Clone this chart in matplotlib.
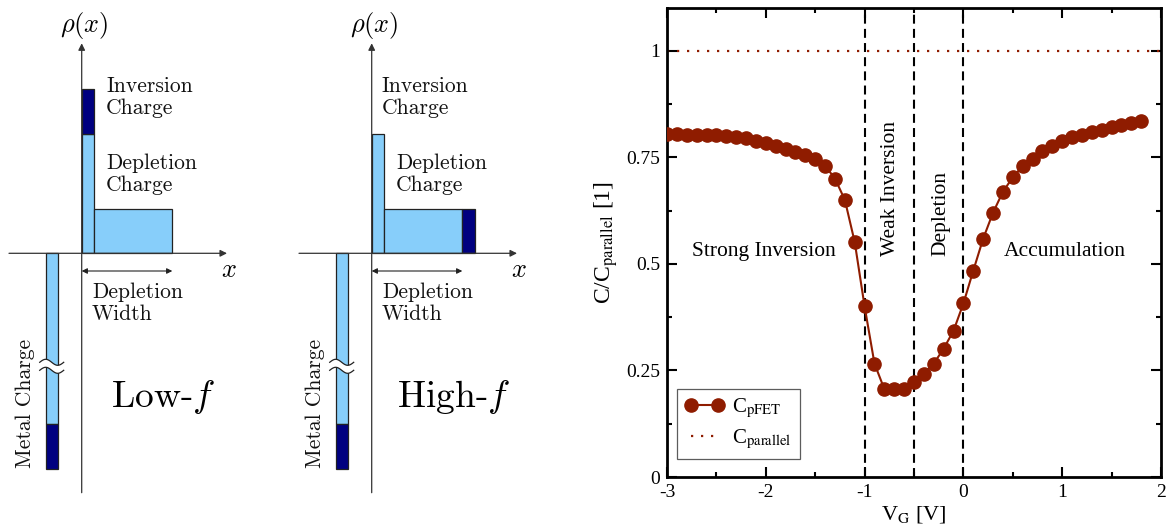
import matplotlib.pyplot as plt
from matplotlib.patches import Rectangle, Polygon
from matplotlib.ticker import MultipleLocator, FixedLocator, FixedFormatter
import numpy as np

plt.rcParams['axes.unicode_minus'] = False

# gate voltage sweep and normalised pFET capacitance
vg = [-3.0, -2.9, -2.8, -2.7, -2.6, -2.5, -2.4, -2.3, -2.2, -2.1,
      -2.0, -1.9, -1.8, -1.7, -1.6, -1.5, -1.4, -1.3, -1.2, -1.1,
      -1.0, -0.9, -0.8, -0.7, -0.6, -0.5, -0.4, -0.3, -0.2, -0.1,
      0.0, 0.1, 0.2, 0.3, 0.4, 0.5, 0.6, 0.7, 0.8, 0.9,
      1.0, 1.1, 1.2, 1.3, 1.4, 1.5, 1.6, 1.7, 1.8]
c_pfet = [0.805, 0.805, 0.803, 0.803, 0.802, 0.801, 0.800, 0.797, 0.794, 0.789,
          0.784, 0.777, 0.770, 0.762, 0.756, 0.747, 0.730, 0.700, 0.650, 0.551,
          0.400, 0.266, 0.206, 0.207, 0.207, 0.223, 0.242, 0.266, 0.301, 0.343,
          0.407, 0.484, 0.559, 0.620, 0.669, 0.703, 0.729, 0.747, 0.764, 0.776,
          0.787, 0.797, 0.803, 0.809, 0.815, 0.820, 0.826, 0.830, 0.834]
c_parallel = 1.0
region_bounds = [-1.0, -0.5, 0.0]

# charge sketch sizes (arbitrary units, origin where the axes cross)
panel_titles = ['Low-$f$', 'High-$f$']
inversion_top = [164, 119]     # top of the thin surface bar
depletion_extra = [0, 12.7]    # extra depletion charge at the edge
thin_height = 119
thin_width = 12
depletion_height = 44
depletion_width = 90.6
metal_depth = 216
metal_dark = 45

LIGHT = '#87cefa'
DARK = '#000080'
RED = '#8f1c00'

fig = plt.figure(figsize=(11.7, 5.28), dpi=100)

cm_txt = dict(family='cmr10', fontsize=15.5, color='#111111')


def draw_sketch(ax, inv_top, dep_extra, title, inv_x):
    ax.set_xlim(-81.7, 208.3)
    ax.set_ylim(-274.7, 253.3)
    ax.axis('off')
    ec = dict(edgecolor='#222222', linewidth=0.9)
    # surface (inversion) bar
    ax.add_patch(Rectangle((0, 0), thin_width, thin_height, facecolor=LIGHT, **ec))
    if inv_top > thin_height:
        ax.add_patch(Rectangle((0, thin_height), thin_width, inv_top - thin_height,
                               facecolor=DARK, **ec))
    # depletion charge
    ax.add_patch(Rectangle((thin_width, 0), depletion_width - thin_width,
                           depletion_height, facecolor=LIGHT, **ec))
    if dep_extra > 0:
        ax.add_patch(Rectangle((depletion_width, 0), dep_extra, depletion_height,
                               facecolor=DARK, **ec))
    # metal charge
    ax.add_patch(Rectangle((-36, -(metal_depth - metal_dark)), 12,
                           metal_depth - metal_dark, facecolor=LIGHT, **ec))
    ax.add_patch(Rectangle((-36, -metal_depth), 12, metal_dark, facecolor=DARK, **ec))
    # break mark on the metal bar
    t = np.linspace(0, 1, 40)
    bx = -42 + 24 * t
    wave = 3 * np.sin(2 * np.pi * t)
    lo = -117 + wave
    hi = -109 + wave
    ax.add_patch(Polygon(np.column_stack([np.r_[bx, bx[::-1]], np.r_[lo, hi[::-1]]]),
                         facecolor='white', edgecolor='none', zorder=3))
    ax.plot(bx, lo, color='#222222', lw=0.9, zorder=4)
    ax.plot(bx, hi, color='#222222', lw=0.9, zorder=4)
    # axes with arrows
    arr = dict(arrowstyle='-|>', color='#333333', lw=0.9, mutation_scale=10,
               shrinkA=0, shrinkB=0)
    ax.annotate('', xy=(0, 210), xytext=(0, -239.4), arrowprops=arr)
    ax.annotate('', xy=(145.3, 0), xytext=(-72.7, 0), arrowprops=arr)
    ax.annotate('', xy=(90.6, -17.7), xytext=(0, -17.7),
                arrowprops=dict(arrowstyle='<|-|>', color='#222222', lw=0.8,
                                mutation_scale=8, shrinkA=0, shrinkB=0))
    # labels
    ax.text(3, 228, r'$\rho(x)$', fontsize=19, ha='center', va='center',
            math_fontfamily='cm')
    ax.text(147.3, -16.7, r'$x$', fontsize=19, ha='center', va='center',
            math_fontfamily='cm')
    ax.text(inv_x, 156, 'Inversion\nCharge', ha='left', va='center',
            linespacing=1.17, **cm_txt)
    ax.text(24.5, 79, 'Depletion\nCharge', ha='left', va='center',
            linespacing=1.17, **cm_txt)
    ax.text(10.3, -50.2, 'Depletion\nWidth', ha='left', va='center',
            linespacing=1.17, **cm_txt)
    ax.text(-56.7, -149.7, 'Metal Charge', rotation=90, ha='center', va='center',
            **cm_txt)
    ax.text(82, -143.7, title, family='cmr10', fontsize=27, ha='center',
            va='center', math_fontfamily='cm')


inv_text_x = [24.3, 10]
for i in range(2):
    sk = fig.add_axes([i * 290 / 1170, 0, 290 / 1170, 1])
    draw_sketch(sk, inversion_top[i], depletion_extra[i], panel_titles[i],
                inv_text_x[i])

# C-V curve
serif = 'Liberation Serif'
ax = fig.add_axes([667 / 1170, 51 / 528, 494 / 1170, 469 / 528])
for xb in region_bounds:
    ax.axvline(xb, color='black', lw=1.5, dashes=(4.3, 2.5), zorder=1)
ax.plot(vg, c_pfet, '-o', color=RED, lw=1.5, ms=9.5, zorder=3,
        label=r'C$_{\mathrm{pFET}}$')
ax.axhline(c_parallel, color=RED, lw=1.6, ls=(0, (1, 3.5)), zorder=2,
           label=r'C$_{\mathrm{parallel}}$')

ax.set_xlim(-3, 2)
ax.set_ylim(0, 1.1)
ax.xaxis.set_major_locator(MultipleLocator(1))
ax.xaxis.set_minor_locator(MultipleLocator(0.5))
yt = [0, 0.25, 0.5, 0.75, 1]
ax.yaxis.set_major_locator(FixedLocator(yt))
ax.yaxis.set_major_formatter(FixedFormatter(['0', '0.25', '0.5', '0.75', '1']))
ax.yaxis.set_minor_locator(MultipleLocator(0.125))
ax.tick_params(which='both', direction='in', top=True, right=True, width=1.5)
ax.tick_params(which='major', length=7, labelsize=14, pad=5)
ax.tick_params(which='minor', length=3.6)
for lab in ax.get_xticklabels() + ax.get_yticklabels():
    lab.set_family(serif)
for sp in ax.spines.values():
    sp.set_linewidth(2)

ax.set_xlabel(r'V$_{\mathrm{G}}$ [V]', fontsize=16, family=serif,
              math_fontfamily='stix', labelpad=2)
ax.set_ylabel(r'C/C$_{\mathrm{parallel}}$ [1]', fontsize=17, family=serif,
              math_fontfamily='stix', labelpad=4)

rt = dict(fontsize=15.5, family=serif, ha='center', va='center')
ax.text(-2.02, 0.529, 'Strong Inversion', **rt)
ax.text(-0.74, 0.677, 'Weak Inversion', rotation=90, **rt)
ax.text(-0.23, 0.617, 'Depletion', rotation=90, **rt)
ax.text(1.03, 0.529, 'Accumulation', **rt)

leg = ax.legend(loc='lower left', bbox_to_anchor=(9.7 / 494, 18 / 469),
                borderaxespad=0, fancybox=False, numpoints=2, handlelength=1.9,
                prop={'family': serif, 'size': 15, 'math_fontfamily': 'stix'},
                labelspacing=0.35, handletextpad=0.35, borderpad=0.4)
leg.get_frame().set_edgecolor('#333333')
leg.get_frame().set_linewidth(0.9)

fig.savefig('out.png', dpi=100)
